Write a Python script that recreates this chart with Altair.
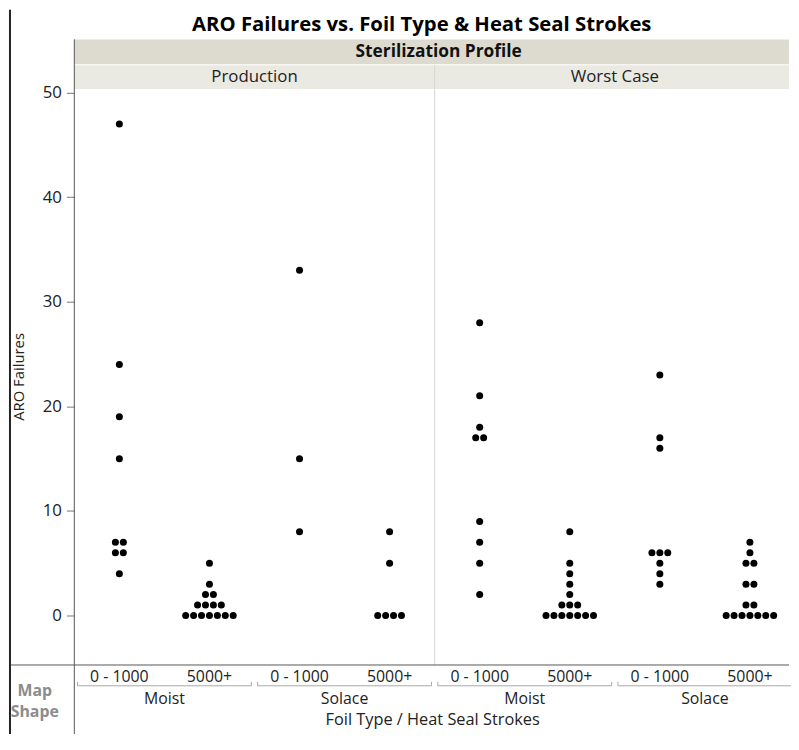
import altair as alt
import pandas as pd

# ---- data ----
profiles = ["Production", "Worst Case"]
foils = ["Moist", "Solace"]
strokes = ["0 - 1000", "5000+"]

prod_moist_low = [47, 24, 19, 15, 7, 7, 6, 6, 4]
prod_moist_high = [5, 3, 2, 2, 1, 1, 1, 1, 0, 0, 0, 0, 0, 0, 0]
prod_solace_low = [33, 15, 8]
prod_solace_high = [8, 5, 0, 0, 0, 0]
wc_moist_low = [28, 21, 18, 17, 17, 9, 7, 5, 2]
wc_moist_high = [8, 5, 4, 3, 2, 1, 1, 1, 0, 0, 0, 0, 0, 0, 0]
wc_solace_low = [23, 17, 16, 6, 6, 6, 5, 4, 3]
wc_solace_high = [7, 6, 5, 5, 3, 3, 1, 1, 0, 0, 0, 0, 0, 0, 0]

series = {
    ("Production", "Moist", "0 - 1000"): prod_moist_low,
    ("Production", "Moist", "5000+"): prod_moist_high,
    ("Production", "Solace", "0 - 1000"): prod_solace_low,
    ("Production", "Solace", "5000+"): prod_solace_high,
    ("Worst Case", "Moist", "0 - 1000"): wc_moist_low,
    ("Worst Case", "Moist", "5000+"): wc_moist_high,
    ("Worst Case", "Solace", "0 - 1000"): wc_solace_low,
    ("Worst Case", "Solace", "5000+"): wc_solace_high,
}

# ---- layout constants ----
W, H = 722, 582
RANGE = 728  # x range (last panel runs past the right edge, as in the reference)
FONT = "Open Sans"
SPACING = 8.0 / (RANGE / 8.0)  # centered-grid jitter step (band units)

rows = []
for (p, f, s), vals in series.items():
    g = profiles.index(p) * 4 + foils.index(f) * 2 + strokes.index(s)
    for v in vals:
        rows.append({"profile": p, "foil": f, "strokes": s, "g": g, "value": v})
df = pd.DataFrame(rows)
df["n"] = df.groupby(["g", "value"])["value"].transform("size")
df["i"] = df.groupby(["g", "value"]).cumcount()
df["x"] = df["g"] + 0.5 + (df["i"] - (df["n"] - 1) / 2.0) * SPACING

xscale = alt.Scale(domain=[0, 8], range=[0, RANGE], nice=False, zero=False)
yscale = alt.Scale(domain=[-4.73, 50.35], nice=False, zero=False)

# category label tables (positions via the x scale)
lab_rows = []
for pi, p in enumerate(profiles):
    for fi, f in enumerate(foils):
        for si, s in enumerate(strokes):
            g = pi * 4 + fi * 2 + si
            lab_rows.append({"xc": g + 0.5, "label": s, "yy": H + 12, "s": 16})
    lab_rows.append({"xc": pi * 4 + 2.0, "label": p, "yy": -12, "s": 17})
for pi, p in enumerate(profiles):
    for fi, f in enumerate(foils):
        lab_rows.append({"xc": pi * 4 + fi * 2 + 1.0, "label": f, "yy": H + 34, "s": 16})
lab_df = pd.DataFrame(lab_rows)

br_rows = []
for pi, p in enumerate(profiles):
    for fi, f in enumerate(foils):
        start = pi * 4 + fi * 2
        xs, xe = start + 0.035, start + 2 - 0.035
        br_rows.append({"a": xs, "b": xe, "y1": H + 21, "y2": H + 21, "c": "#a8a8a8"})
        br_rows.append({"a": xs, "b": xs, "y1": H + 17, "y2": H + 21, "c": "#a8a8a8"})
        br_rows.append({"a": xe, "b": xe, "y1": H + 17, "y2": H + 21, "c": "#a8a8a8"})
# panel separator between the two profiles
br_rows.append({"a": 4.0, "b": 4.0, "y1": -24, "y2": H, "c": "#d4d4d4"})
br_df = pd.DataFrame(br_rows)

# decoration tables (pixel positions, styling only)
rect_df = pd.DataFrame({
    "x1": [0, 0], "x2": [W, W], "y1": [-50, -24], "y2": [-25, 0],
    "c": ["#dddbcf", "#ebeae2"],
})
rule_df = pd.DataFrame({
    "x1": [0, -65, -65],
    "x2": [0, W, -65],
    "y1": [-50, H, -80],
    "y2": [H + 70, H, H + 70],
    "c": ["#555555", "#555555", "#222222"],
    "w": [1, 1, 2],
})
text_df = pd.DataFrame({
    "x": [351, 368, -40, -40, 362, -56],
    "y": [-64.5, -37.5, H + 26, H + 48, H + 56, H / 2],
    "t": ["ARO Failures vs. Foil Type & Heat Seal Strokes", "Sterilization Profile",
          "Map", "Shape", "Foil Type / Heat Seal Strokes", "ARO Failures"],
    "s": [20.5, 17.5, 16, 16, 16.5, 15],
    "c": ["#000000", "#111111", "#8c8c8c", "#8c8c8c", "#222222", "#222222"],
    "a": [0, 0, 0, 0, 0, 270],
    "bold": [1, 1, 1, 1, 0, 0],
})

rects = alt.Chart(rect_df).mark_rect().encode(
    x=alt.X("x1:Q", scale=None), x2="x2:Q",
    y=alt.Y("y1:Q", scale=None), y2="y2:Q",
    color=alt.Color("c:N", scale=None),
)
rules = alt.Chart(rule_df).mark_rule().encode(
    x=alt.X("x1:Q", scale=None), x2="x2:Q",
    y=alt.Y("y1:Q", scale=None), y2="y2:Q",
    color=alt.Color("c:N", scale=None),
    strokeWidth=alt.StrokeWidth("w:Q", scale=None),
)
bold_text = alt.Chart(text_df).transform_filter("datum.bold == 1").mark_text(
    font=FONT, fontWeight="bold", baseline="middle"
).encode(
    x=alt.X("x:Q", scale=None), y=alt.Y("y:Q", scale=None), text="t:N",
    size=alt.Size("s:Q", scale=None), color=alt.Color("c:N", scale=None),
)
norm_text = alt.Chart(text_df).transform_filter("datum.bold == 0").mark_text(
    font=FONT, baseline="middle"
).encode(
    x=alt.X("x:Q", scale=None), y=alt.Y("y:Q", scale=None), text="t:N",
    size=alt.Size("s:Q", scale=None), color=alt.Color("c:N", scale=None),
    angle=alt.Angle("a:Q", scale=None),
)

points = alt.Chart(df).mark_circle(size=50, color="black", opacity=1).encode(
    x=alt.X("x:Q", scale=xscale, axis=None),
    y=alt.Y(
        "value:Q",
        scale=yscale,
        axis=alt.Axis(
            values=[0, 10, 20, 30, 40, 50],
            title=None, grid=False, domain=False,
            tickColor="#777", tickSize=8,
            labelFontSize=17, labelFont=FONT, labelColor="#222", labelPadding=5,
        ),
    ),
)

cat_text = alt.Chart(lab_df).mark_text(font=FONT, color="#222", baseline="middle").encode(
    x=alt.X("xc:Q", scale=xscale, axis=None),
    y=alt.Y("yy:Q", scale=None),
    text="label:N",
    size=alt.Size("s:Q", scale=None),
)
brackets = alt.Chart(br_df).mark_rule().encode(
    x=alt.X("a:Q", scale=xscale, axis=None), x2="b:Q",
    y=alt.Y("y1:Q", scale=None), y2="y2:Q",
    color=alt.Color("c:N", scale=None),
)

chart = alt.layer(
    rects, brackets, points, rules, bold_text, norm_text, cat_text,
).resolve_scale(y="independent").properties(
    width=W, height=H,
    autosize=alt.AutoSizeParams(type="none"),
    padding={"left": 67, "top": 78, "right": 2, "bottom": 66},
).configure_view(stroke=None)

chart.save("out.html", embed_options={"renderer": "svg", "actions": False})
